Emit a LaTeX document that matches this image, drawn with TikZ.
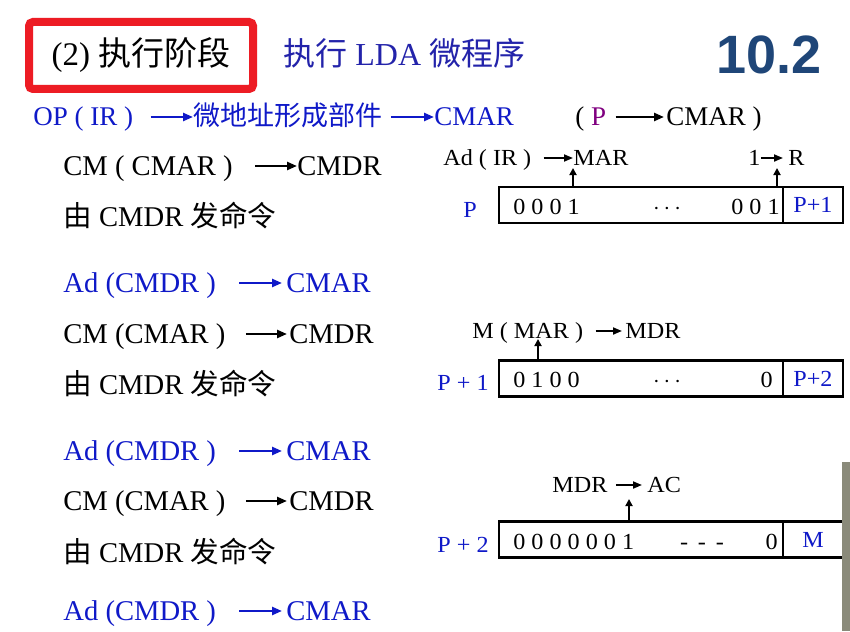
\documentclass[tikz,border=0pt]{standalone}
\usepackage{fontspec}
\setmainfont{Liberation Serif}
\newfontfamily\cjk{Noto Sans CJK SC}
\newfontfamily\wide[FakeStretch=1.05]{Liberation Serif}
\newfontfamily\heavy{Liberation Sans}
\usepackage{xcolor}
\usetikzlibrary{positioning, arrows.meta, calc}

\definecolor{slideblue}{RGB}{15,25,200}
\definecolor{titleblue}{RGB}{35,35,170}
\definecolor{framered}{RGB}{237,28,36}
\definecolor{numnavy}{RGB}{31,70,120}
\definecolor{ppurple}{RGB}{128,0,128}
\definecolor{edgegray}{RGB}{138,138,122}

\begin{document}
\begin{tikzpicture}[
  x=0.5pt, y=-0.5pt,
  line/.style={inner sep=0pt, anchor=west, font=\fontsize{14.3}{17}\selectfont, text height=9.5pt, text depth=0pt},
  blueline/.style={line, text=slideblue},
  lead/.style={inner sep=0pt, anchor=west, font=\fontsize{13.5}{16}\selectfont, text height=9pt, text depth=0pt, text=slideblue},
  reg/.style={inner sep=0pt, anchor=west, font=\wide\fontsize{11.5}{14}\selectfont, text height=7.6pt, text depth=0pt},
  addr/.style={reg, text=slideblue},
  cell/.style={draw, line width=1.25pt, minimum height=18pt, inner sep=0pt, outer sep=0pt},
  code/.style={cell, minimum width=142pt},
  next/.style={cell, minimum width=30pt, font=\wide\fontsize{11.5}{14}\selectfont, text height=7.6pt, text depth=0pt, text=slideblue},
  arrow/.style={-{Triangle[length=5pt, width=4pt]}, line width=1.2pt},
  bluearrow/.style={arrow, draw=slideblue},
  thinarrow/.style={-{Triangle[length=4.5pt, width=3.5pt]}, line width=0.9pt},
  uparrow/.style={-{Triangle[length=3.5pt, width=3.5pt]}, line width=1.2pt},
]
\fill[white] (0,0) rectangle (850,631);
\useasboundingbox (0,0) rectangle (850,631);

% ================= 标题 =================
\node[draw=framered, line width=4pt, rounded corners=2pt, minimum width=112pt, minimum height=33.5pt,
      font=\fontsize{16.5}{19}\selectfont] (stage) at (141,55.5) {(2) {\cjk 执行阶段}};
\node[anchor=west, inner sep=0pt, font=\fontsize{16}{19}\selectfont, text=titleblue] (prog) at (283,53)
  {{\cjk 执行} LDA {\cjk 微程序}};
\node[anchor=east, inner sep=0pt, font=\heavy\bfseries\fontsize{27}{30}\selectfont, text=numnavy] (secno) at (822,55) {10.2};

% ================= 取指后形成微地址 =================
\node[lead] (op) at (33,117) {OP ( IR )};
\node[lead] (form) at (193,117) {\cjk 微地址形成部件};
\node[lead] (cmar0) at (434,117) {CMAR};
\node[lead, text=black] (pl) at (575,117) {( \textcolor{ppurple}{P}};
\node[lead, text=black] (pr) at (666,117) {CMAR )};
\draw[bluearrow, shorten <=8.5pt] (op.east) -- (form.west);
\draw[bluearrow, shorten <=4pt] (form.east) -- (cmar0.west);
\draw[arrow, shorten <=4.5pt, shorten >=1pt] (pl.east) -- (pr.west);

% ================= 左列：微操作 =================
% 第一条微指令
\node[line] (cm1) at (63,166) {CM ( CMAR )};
\node[line] (cmdr1) at (297,166) {CMDR};
\draw[arrow, shorten <=11pt] (cm1.east) -- (cmdr1.west);
\node[line] (cmd1) at (63,217) {{\cjk 由} CMDR {\cjk 发命令}};

% 第二条微指令
\node[blueline] (ad2) at (63,283) {Ad (CMDR )};
\node[blueline] (cmar2) at (286,283) {CMAR};
\draw[bluearrow, shorten <=11.5pt, shorten >=2pt] (ad2.east) -- (cmar2.west);
\node[line] (cm2) at (63,334) {CM (CMAR )};
\node[line] (cmdr2) at (289,334) {CMDR};
\draw[arrow, shorten <=10pt, shorten >=1pt] (cm2.east) -- (cmdr2.west);
\node[line] (cmd2) at (63,385) {{\cjk 由} CMDR {\cjk 发命令}};

% 第三条微指令
\node[blueline] (ad3) at (63,451) {Ad (CMDR )};
\node[blueline] (cmar3) at (286,451) {CMAR};
\draw[bluearrow, shorten <=11.5pt, shorten >=2pt] (ad3.east) -- (cmar3.west);
\node[line] (cm3) at (63,501) {CM (CMAR )};
\node[line] (cmdr3) at (289,501) {CMDR};
\draw[arrow, shorten <=10pt, shorten >=1pt] (cm3.east) -- (cmdr3.west);
\node[line] (cmd3) at (63,553) {{\cjk 由} CMDR {\cjk 发命令}};

% 第四条微指令
\node[blueline] (ad4) at (63,611) {Ad (CMDR )};
\node[blueline] (cmar4) at (286,611) {CMAR};
\draw[bluearrow, shorten <=11.5pt, shorten >=2pt] (ad4.east) -- (cmar4.west);

% ================= 右列：微指令格式 =================
% 地址 P
\node[code] (code1) at (641,205) {};
\node[next, right=0pt of code1] (next1) {P+1};
\node[addr] (p1) at (463,210) {P};
\node[reg] (bits1) at (513,207) {0 0 0 1};
\node[reg, anchor=center] (dots1) at (667,207) {$\cdots$};
\node[reg, anchor=east] (tail1) at (780,207) {0 0 1};
\node[reg] (ir1) at (443,158) {Ad ( IR )};
\node[reg] (mar1) at (573,158) {MAR};
\node[reg] (one1) at (748,158) {1};
\node[reg] (r1) at (788,158) {R};
\draw[thinarrow, shorten <=6pt] (ir1.east) -- (mar1.west);
\draw[thinarrow, shorten >=2.5pt] (one1.east) -- (r1.west);
\draw[uparrow, shorten >=1pt] (code1.north -| mar1.west) -- (mar1.south west);
\draw[uparrow, shorten >=1pt] ([xshift=-3pt]code1.north east) -- ([xshift=-3pt]code1.north east |- r1.south);

% 地址 P+1
\node[code] (code2) at (641,378.5) {};
\node[next, right=0pt of code2] (next2) {P+2};
\node[addr] (p2) at (437,383) {P + 1};
\node[reg] (bits2) at (513,380) {0 1 0 0};
\node[reg, anchor=center] (dots2) at (667,380) {$\cdots$};
\node[reg, anchor=east] (tail2) at (773,380) {0};
\node[reg] (mar2) at (472,331) {M ( MAR )};
\node[reg] (mdr2) at (625,331) {MDR};
\draw[thinarrow, shorten <=6pt, shorten >=1.5pt] (mar2.east) -- (mdr2.west);
\draw[uparrow] ([xshift=19.5pt]code2.north west) -- ([xshift=19.5pt]code2.north west |- mar2.south);

% 地址 P+2
\node[code] (code3) at (641,539.5) {};
\node[next, right=0pt of code3] (next3) {M};
\node[addr] (p3) at (437,545) {P + 2};
\node[reg] (bits3) at (513,542) {0 0 0 0 0 0 1};
\node[reg, anchor=center] (dots3) at (702,542) {-\, -\, -};
\node[reg, anchor=east] (tail3) at (778,542) {0};
\node[reg] (mdr3) at (552,485) {MDR};
\node[reg] (ac3) at (647,485) {AC};
\draw[thinarrow, shorten <=4pt, shorten >=2.5pt] (mdr3.east) -- (ac3.west);
\draw[uparrow, shorten >=3pt] ([xshift=65pt]code3.north west) -- ([xshift=65pt]code3.north west |- mdr3.south);

% 右侧边缘
\fill[edgegray] (842,462) rectangle (850,631);

\end{tikzpicture}
\end{document}
